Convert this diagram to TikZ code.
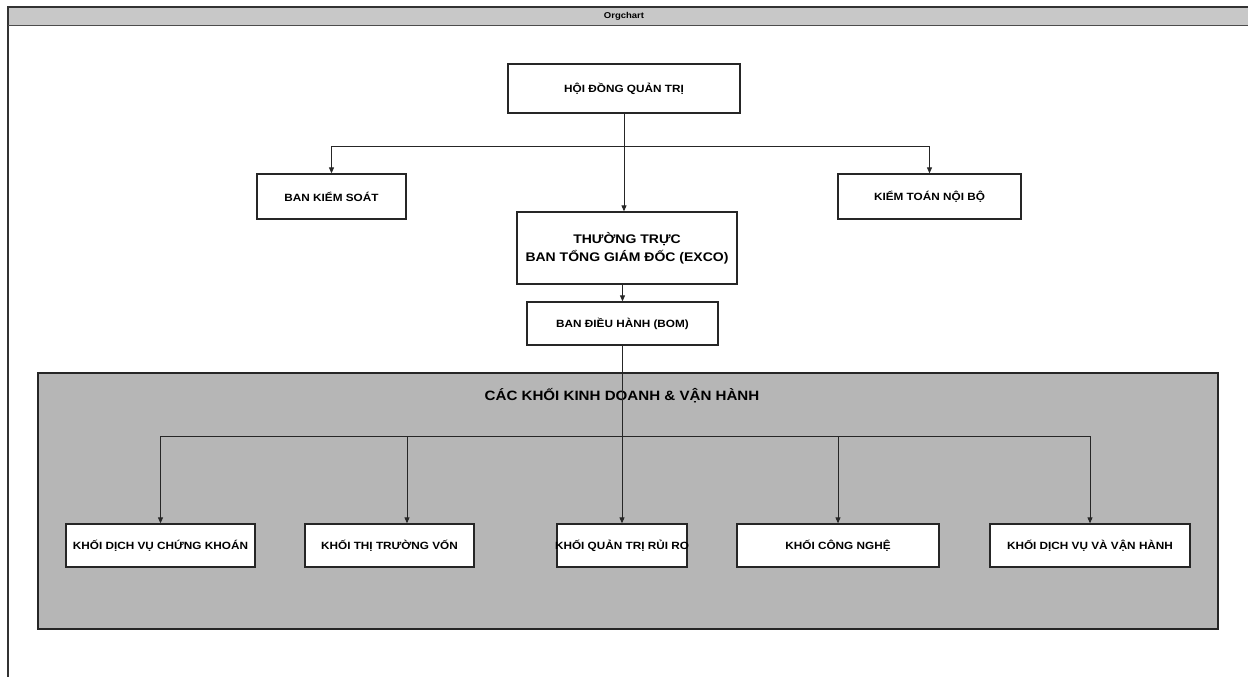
\documentclass[tikz,border=0pt]{standalone}
\usepackage{fontspec}
\setmainfont[FakeStretch=1.12]{Liberation Sans}
\usetikzlibrary{arrows.meta,calc}
\definecolor{grpgray}{RGB}{182,182,182}
\definecolor{bargray}{RGB}{200,200,200}
\tikzset{
  orgbox/.style={draw=black!85,line width=1.3pt,fill=white,inner sep=0pt,font=\bfseries\fontsize{10.5}{12}\selectfont},
  conn/.style={draw=black!85,line width=0.9pt},
  arr/.style={conn,-{Triangle[length=6pt,width=5pt]}}
}
\begin{document}
\begin{tikzpicture}[x=1pt,y=-1pt]
\useasboundingbox (0,0) rectangle (1248,677);
\fill[white] (0,0) rectangle (1248,677);
% window frame and title bar
\fill[bargray] (8,7) rectangle (1248,26);
\draw[black!80,line width=1.2pt] (1248,7) -- (8,7) -- (8,677);
\draw[black!70,line width=1pt] (8,26) -- (1248,26);
\node[font=\bfseries\fontsize{8.5}{9}\selectfont] (title) at (624,16) {Orgchart};
% group box
\node[draw=black!85,line width=1.5pt,fill=grpgray,minimum width=1180pt,minimum height=256pt,inner sep=0pt] (grp) at (628,501) {};
\node[font=\bfseries\fontsize{13.5}{15}\selectfont] (grptitle) at (622,396) {CÁC KHỐI KINH DOANH \& VẬN HÀNH};
% top boxes
\node[orgbox,minimum width=232pt,minimum height=49pt] (hdqt) at (624,88.5) {HỘI ĐỒNG QUẢN TRỊ};
\node[orgbox,minimum width=149pt,minimum height=45pt] (bks) at (331.5,196.5) {BAN KIỂM SOÁT};
\node[orgbox,minimum width=183pt,minimum height=45pt] (ktnb) at (929.5,196.5) {KIỂM TOÁN NỘI BỘ};
\node[orgbox,minimum width=220pt,minimum height=72pt,align=center,font=\bfseries\fontsize{12.5}{18}\selectfont] (tt) at (627,248) {THƯỜNG TRỰC\\BAN TỔNG GIÁM ĐỐC (EXCO)};
\node[orgbox,minimum width=191pt,minimum height=43pt] (bom) at (622.5,323.5) {BAN ĐIỀU HÀNH (BOM)};
% bottom boxes
\node[orgbox,minimum width=189pt,minimum height=43pt] (dvck) at (160.5,545.5) {KHỐI DỊCH VỤ CHỨNG KHOÁN};
\node[orgbox,minimum width=169pt,minimum height=43pt] (ttv) at (389.5,545.5) {KHỐI THỊ TRƯỜNG VỐN};
\node[orgbox,minimum width=130pt,minimum height=43pt] (qtrr) at (622,545.5) {\makebox[128pt]{KHỐI QUẢN TRỊ RỦI RO}};
\node[orgbox,minimum width=202pt,minimum height=43pt] (cn) at (838,545.5) {KHỐI CÔNG NGHỆ};
\node[orgbox,minimum width=200pt,minimum height=43pt] (dvvh) at (1090,545.5) {KHỐI DỊCH VỤ VÀ VẬN HÀNH};
% junctions
\coordinate (j1) at (624,146);
\coordinate (j2) at (622,436);
% connectors
\draw[arr] (hdqt.south) -- (tt.north -| hdqt.south);
\draw[arr] (j1) -| (bks.north);
\draw[arr] (j1) -| (ktnb.north);
\draw[arr] (tt.south -| bom.north) -- (bom.north);
\draw[arr] (bom.south -| qtrr.north) -- (qtrr.north);
\draw[arr] (j2) -| (dvck.north);
\draw[arr] (j2) -| ($(ttv.north)+(17.5,0)$);
\draw[arr] (j2) -| (cn.north);
\draw[arr] (j2) -| (dvvh.north);
\end{tikzpicture}
\end{document}
